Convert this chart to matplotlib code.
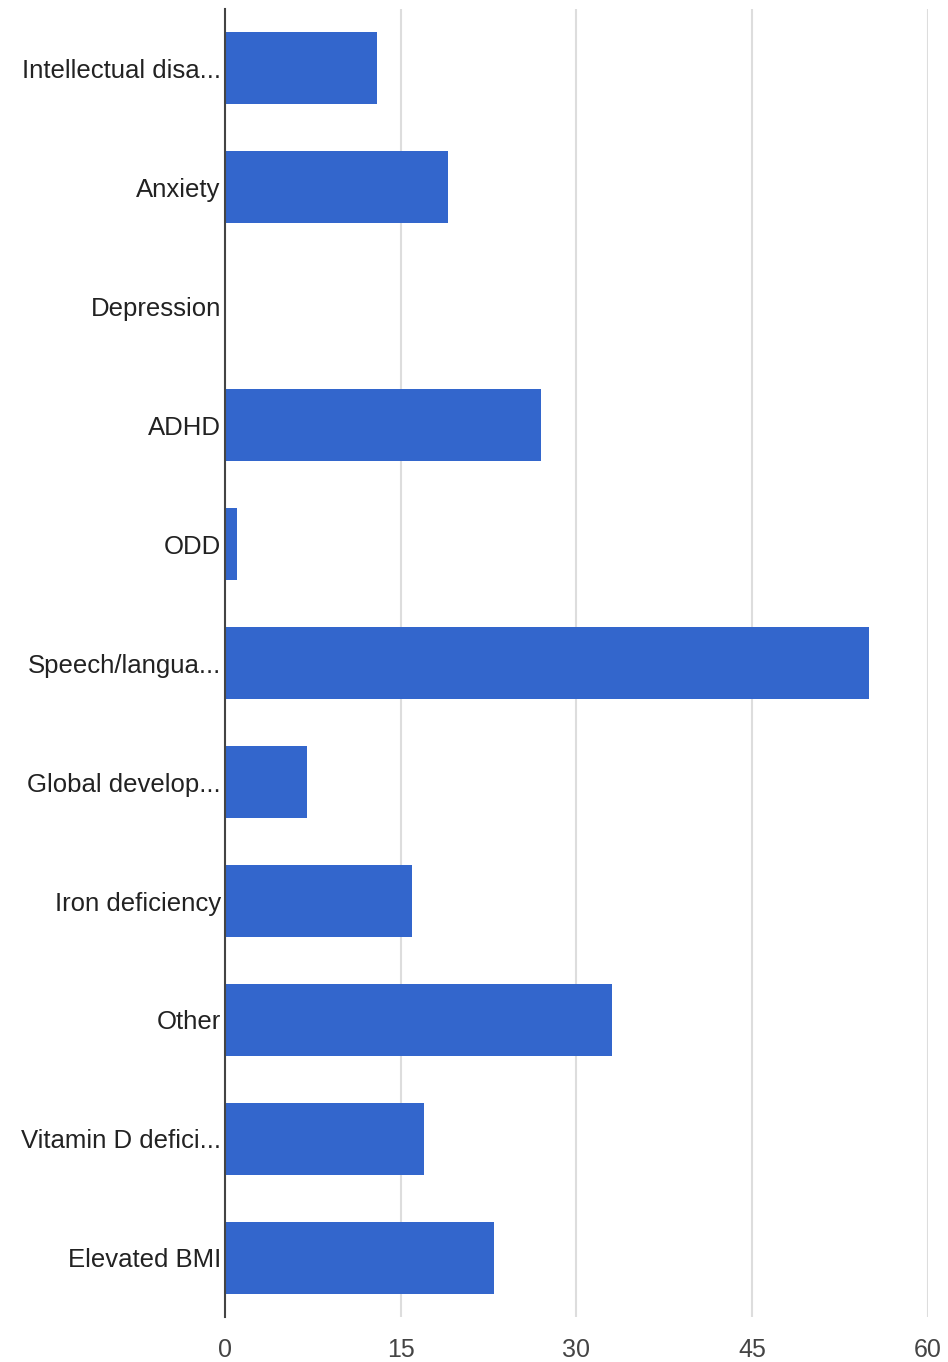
import matplotlib.pyplot as plt

categories = ['Intellectual disa...', 'Anxiety', 'Depression', 'ADHD', 'ODD',
              'Speech/langua...', 'Global develop...', 'Iron deficiency', 'Other',
              'Vitamin D defici...', 'Elevated BMI']
values = [13, 19, 0, 27, 1, 55, 7, 16, 33, 17, 23]
xticks = [0, 15, 30, 45, 60]

plt.rcParams['font.family'] = ['Liberation Sans', 'DejaVu Sans']

fig = plt.figure(figsize=(9.48, 13.62), dpi=100)
ax = fig.add_axes([0.2373, 0.0327, 0.7416, 0.961])

ypos = list(range(len(categories)))
ax.barh(ypos, values, height=0.6, color='#3366cc', zorder=3)

ax.set_xlim(0, 60)
ax.set_ylim(len(categories) - 0.5, -0.5)
ax.set_xticks(xticks)
ax.set_xticklabels([str(t) for t in xticks])
ax.set_yticks(ypos)
ax.set_yticklabels(categories)

for t in xticks[1:]:
    ax.axvline(t, color='#dddddd', linewidth=1.5, zorder=1)

for s in ['top', 'right', 'bottom']:
    ax.spines[s].set_visible(False)
ax.spines['left'].set_color('#444444')
ax.spines['left'].set_linewidth(1.5)
ax.spines['left'].set_zorder(4)

ax.tick_params(axis='y', length=0, pad=3, labelsize=18.5, labelcolor='#222222')
ax.tick_params(axis='x', length=0, pad=15, labelsize=18, labelcolor='#444444')

fig.savefig('out.png', dpi=100)
